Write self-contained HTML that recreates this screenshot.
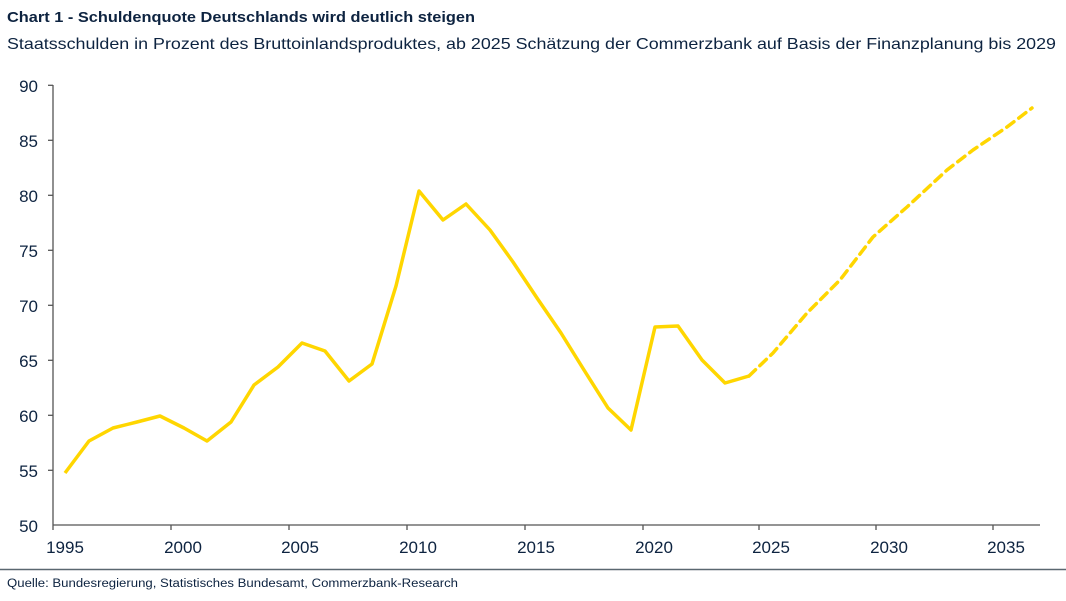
<!DOCTYPE html>
<html><head><meta charset="utf-8"><style>
body{margin:0;background:#fff;width:1066px;height:596px;overflow:hidden;font-family:"Liberation Sans",sans-serif}
</style></head><body>
<svg width="1066" height="596" viewBox="0 0 1066 596" xmlns="http://www.w3.org/2000/svg" font-family="Liberation Sans, sans-serif">
<text x="7" y="22" font-size="15" font-weight="bold" fill="#0d2340" textLength="468" lengthAdjust="spacingAndGlyphs">Chart 1 - Schuldenquote Deutschlands wird deutlich steigen</text>
<text x="7" y="49" font-size="16" fill="#0d2340" textLength="1049" lengthAdjust="spacingAndGlyphs">Staatsschulden in Prozent des Bruttoinlandsproduktes, ab 2025 Schätzung der Commerzbank auf Basis der Finanzplanung bis 2029</text>
<g font-size="17" fill="#0d2340" text-anchor="end">
<text x="38" y="92">90</text><text x="38" y="147">85</text><text x="38" y="202">80</text><text x="38" y="257">75</text><text x="38" y="312">70</text><text x="38" y="367">65</text><text x="38" y="422">60</text><text x="38" y="477">55</text><text x="38" y="532">50</text>
</g>
<g stroke="#555" stroke-width="1.3">
<line x1="53" y1="85" x2="53" y2="525"/>
<line x1="53" y1="525" x2="1040" y2="525"/>
<line x1="48" y1="85.3" x2="53" y2="85.3"/><line x1="48" y1="140.3" x2="53" y2="140.3"/><line x1="48" y1="195.3" x2="53" y2="195.3"/><line x1="48" y1="250.3" x2="53" y2="250.3"/><line x1="48" y1="305.3" x2="53" y2="305.3"/><line x1="48" y1="360.3" x2="53" y2="360.3"/><line x1="48" y1="415.3" x2="53" y2="415.3"/><line x1="48" y1="470.3" x2="53" y2="470.3"/>
<line x1="53" y1="525" x2="53" y2="530"/><line x1="171" y1="525" x2="171" y2="530"/><line x1="289" y1="525" x2="289" y2="530"/><line x1="407" y1="525" x2="407" y2="530"/><line x1="525" y1="525" x2="525" y2="530"/><line x1="643" y1="525" x2="643" y2="530"/><line x1="759" y1="525" x2="759" y2="530"/><line x1="876" y1="525" x2="876" y2="530"/><line x1="993" y1="525" x2="993" y2="530"/>
</g>
<g font-size="17" fill="#0d2340" text-anchor="middle">
<text x="65" y="553">1995</text><text x="183" y="553">2000</text><text x="300" y="553">2005</text><text x="418" y="553">2010</text><text x="536" y="553">2015</text><text x="654" y="553">2020</text><text x="771" y="553">2025</text><text x="889" y="553">2030</text><text x="1006" y="553">2035</text>
</g>
<polyline fill="none" stroke="#FFD600" stroke-width="3.5" stroke-linejoin="round" points="65,473 89,441 113,428 137,422 160,416 184,428 207,441 231,422 254,385 278,367 302,343 325,351 349,381 372,364 396,286 419,191 443,220 466,204 490,230 513,262 537,298 561,333 584,370 608,408 631,430 655,327 678,326 702,360 725,383 749,376"/>
<polyline fill="none" stroke="#FFD600" stroke-width="3.5" stroke-dasharray="9,6" stroke-linecap="round" stroke-linejoin="round" points="749,376 773,353 807,313 840,280 873,237 907,207 947,170 973,150 1007,127 1032,108"/>
<line x1="0" y1="569.5" x2="1066" y2="569.5" stroke="#5a6770" stroke-width="1.5"/>
<text x="7" y="587" font-size="11.5" fill="#0d2340" textLength="451" lengthAdjust="spacingAndGlyphs">Quelle: Bundesregierung, Statistisches Bundesamt, Commerzbank-Research</text>
</svg>
</body></html>
